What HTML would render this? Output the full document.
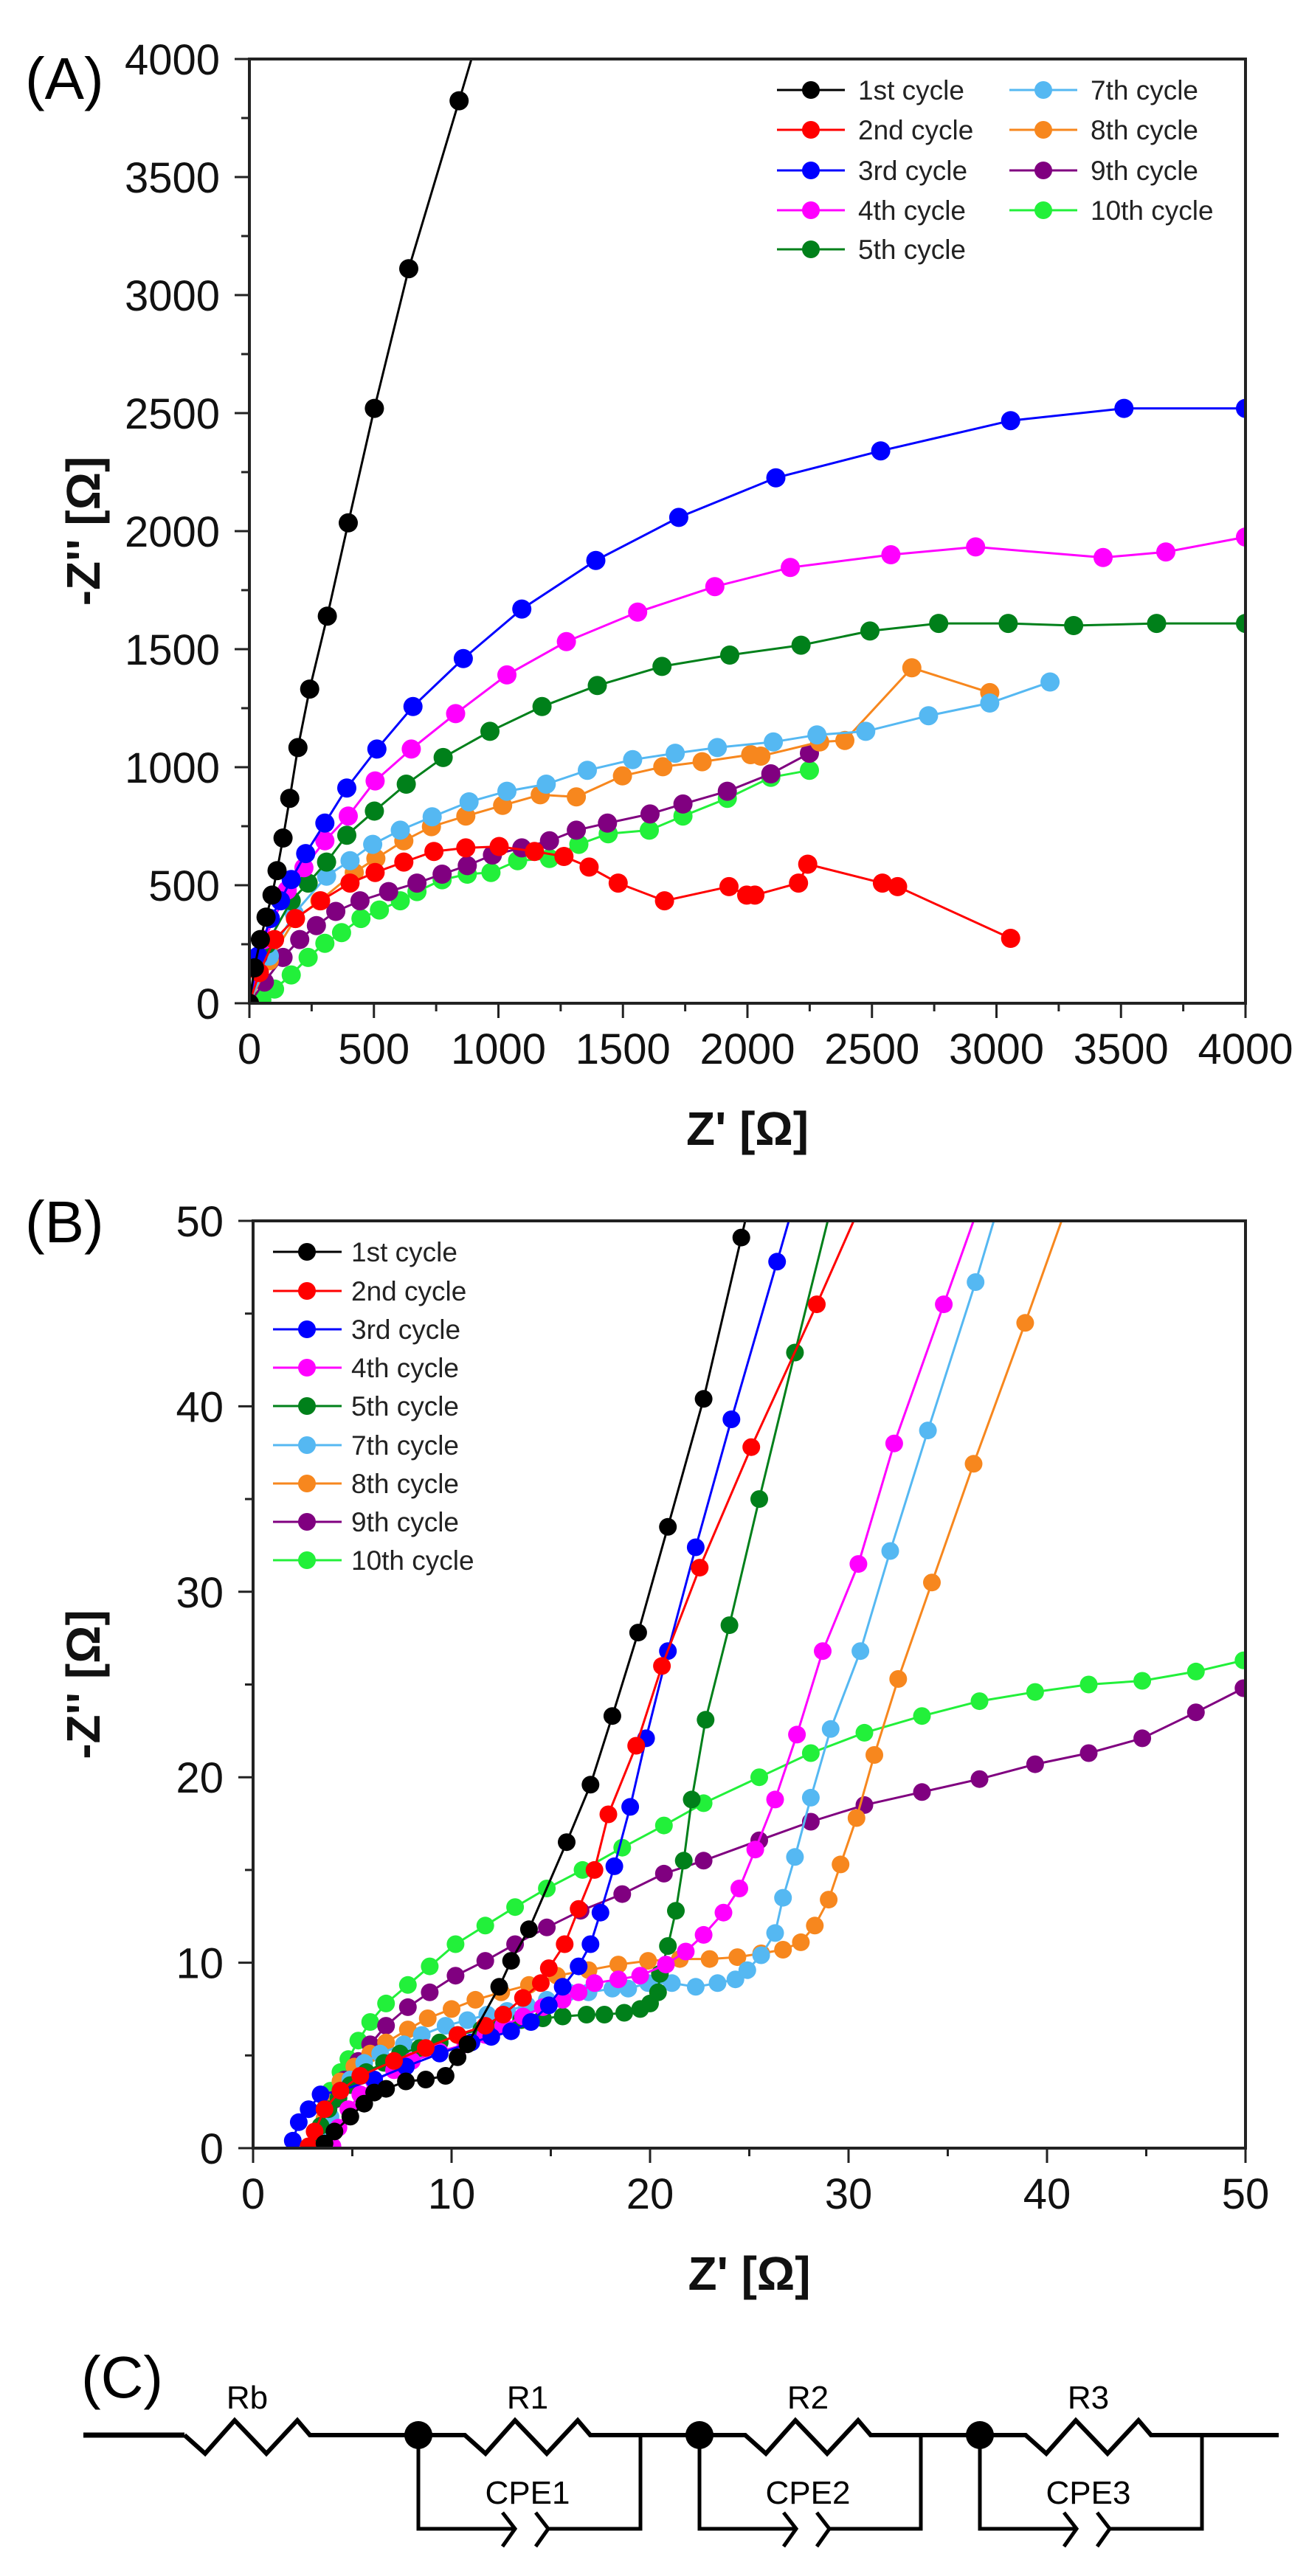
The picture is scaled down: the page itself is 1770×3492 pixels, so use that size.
<!DOCTYPE html>
<html><head><meta charset="utf-8">
<style>
html,body{margin:0;padding:0;background:#fff;}
svg{display:block;font-family:"Liberation Sans",Arial,sans-serif;}
</style></head>
<body>
<svg id="fig" width="1770" height="3492" viewBox="0 0 1770 3492" xmlns="http://www.w3.org/2000/svg">
<defs>
<clipPath id="clipA"><rect x="338" y="80" width="1350" height="1280"/></clipPath>
<clipPath id="clipB"><rect x="343" y="1655" width="1345" height="1257"/></clipPath>
</defs>
<text x="34" y="134" font-size="80">(A)</text>
<text x="34" y="1684" font-size="80">(B)</text>
<text x="110" y="3250" font-size="80">(C)</text>
<g id="chartA"></g>
<g id="chartB"></g>
<g id="circuit" stroke="#000" fill="none">
  <line x1="113" y1="3301" x2="250" y2="3301" stroke-width="7"/>
  <polyline points="250,3301 278,3326 318,3281 361,3326 403,3281 420,3301 567,3301" stroke-width="6"/>
  <polyline points="567,3301 630,3301 658,3326 698,3281 741,3326 783,3281 800,3301 948,3301" stroke-width="6"/>
  <polyline points="948,3301 1010,3301 1038,3326 1078,3281 1121,3326 1163,3281 1180,3301 1328,3301" stroke-width="6"/>
  <polyline points="1328,3301 1390,3301 1418,3326 1458,3281 1501,3326 1543,3281 1560,3301 1733,3301" stroke-width="6"/>
  <g stroke-width="5">
    <polyline points="567,3301 567,3428 698,3428"/><polyline points="681,3406 698,3428 681,3452"/>
    <polyline points="726,3406 743,3428 726,3452"/><polyline points="743,3428 868,3428 868,3301"/>
  </g>
  <g stroke-width="5">
    <polyline points="948,3301 948,3428 1079,3428"/><polyline points="1062,3406 1079,3428 1062,3452"/>
    <polyline points="1107,3406 1124,3428 1107,3452"/><polyline points="1124,3428 1248,3428 1248,3301"/>
  </g>
  <g stroke-width="5">
    <polyline points="1328,3301 1328,3428 1459,3428"/><polyline points="1442,3406 1459,3428 1442,3452"/>
    <polyline points="1487,3406 1504,3428 1487,3452"/><polyline points="1504,3428 1629,3428 1629,3301"/>
  </g>
  <circle cx="567" cy="3301" r="19" fill="#000" stroke="none"/>
  <circle cx="948" cy="3301" r="19" fill="#000" stroke="none"/>
  <circle cx="1328" cy="3301" r="19" fill="#000" stroke="none"/>
  <g fill="#000" stroke="none" font-size="44" text-anchor="middle">
    <text x="335" y="3265">Rb</text>
    <text x="715" y="3265">R1</text>
    <text x="1095" y="3265">R2</text>
    <text x="1475" y="3265">R3</text>
    <text x="715" y="3394">CPE1</text>
    <text x="1095" y="3394">CPE2</text>
    <text x="1475" y="3394">CPE3</text>
  </g>
</g>
</svg>
<script>
// ---------- Panel A data (Z' , -Z'') ----------
const aNames = ["1st cycle","2nd cycle","3rd cycle","4th cycle","5th cycle","7th cycle","8th cycle","9th cycle","10th cycle"];
const aColors = ["#000000","#ff0000","#0000ff","#ff00ff","#00801a","#55b8f2","#f7871e","#800080","#22f03a"];
const a1x = [0,20,44,67,91,111,135,162,195,242,313,397,502,640,842,1060];
const a1y = [0,150,270,365,458,562,700,868,1083,1331,1640,2035,2520,3112,3823,4600];
const a2x = [0,40,101,185,286,404,505,620,741,869,1003,1145,1263,1364,1481,1667,1926,1997,2030,2205,2242,2542,2603,3057];
const a2y = [0,130,270,359,434,509,554,598,643,658,664,643,622,577,509,434,494,458,458,509,589,509,494,275];
const a3x = [0,35,84,125,168,226,303,391,512,657,859,1094,1391,1724,2114,2535,3057,3512,4000];
const a3y = [0,200,359,434,524,634,763,912,1077,1257,1460,1670,1876,2058,2226,2340,2468,2520,2520];
const a4x = [0,60,152,219,303,397,505,650,828,1034,1273,1559,1869,2172,2576,2916,3428,3680,4000];
const a4y = [0,270,479,574,688,793,942,1077,1227,1391,1532,1657,1765,1846,1900,1933,1888,1912,1975];
const a5x = [0,70,168,236,310,391,502,630,778,966,1175,1397,1657,1929,2215,2492,2768,3047,3310,3643,4000];
const a5y = [0,250,434,509,598,712,814,928,1041,1152,1257,1346,1427,1475,1517,1577,1609,1609,1600,1609,1609];
const a7x = [0,80,180,310,404,495,606,734,882,1034,1192,1357,1539,1710,1879,2104,2279,2475,2727,2973,3215];
const a7y = [0,200,380,538,604,673,733,790,853,898,928,987,1032,1059,1083,1107,1137,1152,1218,1272,1361];
const a8x = [0,80,185,283,421,508,620,731,869,1017,1168,1313,1498,1660,1818,2013,2054,2290,2391,2660,2973];
const a8y = [0,180,359,434,554,613,688,748,793,838,883,874,963,1002,1023,1053,1047,1107,1113,1421,1316];
const a9x = [0,60,135,202,269,347,444,559,673,774,875,976,1094,1205,1313,1438,1609,1741,1919,2094,2249];
const a9y = [0,90,194,270,329,389,434,473,509,547,583,628,658,688,733,763,802,844,898,972,1059];
const a10x = [0,50,101,168,236,303,370,448,522,606,673,774,875,970,1077,1205,1323,1441,1606,1741,1919,2094,2249];
const a10y = [0,15,60,120,194,254,299,359,395,434,473,523,547,554,604,613,673,718,733,793,868,957,987];
const aX = [a1x,a2x,a3x,a4x,a5x,a7x,a8x,a9x,a10x];
const aY = [a1y,a2y,a3y,a4y,a5y,a7y,a8y,a9y,a10y];
const aXTicks = [0,500,1000,1500,2000,2500,3000,3500,4000];
const aYTicks = [0,500,1000,1500,2000,2500,3000,3500,4000];

// ---------- Panel B data ----------
const b1x = [3.6,4.1,4.9,5.6,6.1,6.7,7.7,8.7,9.7,10.3,10.8,12.4,13.0,13.9,15.8,17.0,18.1,19.4,20.9,22.7,24.6,26.5];
const b1y = [0.25,0.9,1.7,2.4,3.0,3.2,3.6,3.7,3.9,4.9,5.6,8.7,10.1,11.8,16.5,19.6,23.3,27.8,33.5,40.4,49.1,57.8];
const b2x = [2.8,3.1,3.6,4.4,5.4,7.1,8.7,10.3,11.7,12.6,13.6,14.5,14.9,15.7,16.4,17.2,17.9,19.3,20.6,22.5,25.1,28.4,31.5];
const b2y = [0.1,0.9,2.1,3.1,3.9,4.7,5.4,6.1,6.6,7.2,8.1,8.9,9.7,11.0,12.9,15.0,18.0,21.7,26.0,31.3,37.8,45.5,53.0];
const b3x = [2.0,2.3,2.8,3.4,4.4,6.1,7.7,9.4,11.0,12.0,13.0,14.0,14.9,15.6,16.4,17.0,17.5,18.2,19.0,19.8,20.9,22.3,24.1,26.4,28.6];
const b3y = [0.4,1.4,2.1,2.9,3.1,3.7,4.4,5.1,5.7,6.0,6.3,6.8,7.7,8.7,9.8,11.0,12.7,15.2,18.4,22.1,26.8,32.4,39.3,47.8,56.0];
const b4x = [4.0,4.3,4.8,5.4,6.1,7.1,8.0,9.4,10.7,11.7,12.6,13.6,14.6,15.6,16.4,17.2,18.4,19.5,20.8,21.8,22.7,23.7,24.5,25.3,26.3,27.4,28.7,30.5,32.3,34.8,36.8];
const b4y = [0.1,1.1,2.1,2.9,3.6,4.2,4.7,5.2,5.6,6.1,6.6,7.1,7.6,8.0,8.4,8.9,9.1,9.3,9.9,10.6,11.5,12.7,14.0,16.1,18.8,22.3,26.8,31.5,38.0,45.5,51.5];
const b5x = [3.3,3.4,3.8,4.3,4.9,5.7,6.6,7.4,8.4,9.4,10.3,11.5,12.5,13.5,14.6,15.6,16.8,17.7,18.7,19.5,20.0,20.4,20.5,20.9,21.3,21.7,22.1,22.8,24.0,25.5,27.3,29.3];
const b5y = [0.25,1.2,2.1,2.7,3.4,4.1,4.6,5.1,5.4,5.7,6.1,6.4,6.6,6.9,7.0,7.1,7.2,7.2,7.3,7.5,7.8,8.4,9.4,10.9,12.8,15.5,18.8,23.1,28.2,35.0,42.9,51.5];
const b7x = [3.6,3.7,3.9,4.3,4.9,5.6,6.4,7.6,8.5,9.7,10.8,11.8,12.8,13.8,14.8,15.9,16.9,18.1,18.9,19.9,21.1,22.3,23.4,24.3,24.9,25.6,26.3,26.7,27.3,28.1,29.1,30.6,32.1,34.0,36.4,37.6];
const b7y = [0.1,0.75,1.7,2.7,3.7,4.6,5.1,5.6,6.1,6.6,6.9,7.2,7.4,7.7,8.0,8.4,8.4,8.6,8.6,8.9,8.9,8.7,8.9,9.1,9.6,10.4,11.6,13.5,15.7,18.9,22.6,26.8,32.2,38.7,46.7,51.0];
const b8x = [3.4,3.6,3.9,4.4,5.1,5.9,6.7,7.8,8.8,10.0,11.2,12.5,13.9,15.3,16.9,18.4,19.9,21.5,23.0,24.4,25.6,26.7,27.6,28.3,29.0,29.6,30.4,31.3,32.5,34.2,36.3,38.9,41.5];
const b8y = [0.25,1.6,2.6,3.6,4.4,5.1,5.7,6.4,7.0,7.5,8.0,8.4,8.8,9.3,9.6,9.9,10.1,10.2,10.2,10.3,10.5,10.7,11.1,12.0,13.4,15.3,17.8,21.2,25.3,30.5,36.9,44.5,52.3];
const b9x = [3.6,3.8,4.1,4.6,5.3,5.9,6.7,7.8,8.9,10.2,11.7,13.2,14.8,16.5,18.6,20.7,22.7,25.5,28.1,30.8,33.7,36.6,39.4,42.1,44.8,47.5,49.9];
const b9y = [0.25,1.4,2.6,3.7,4.7,5.6,6.6,7.6,8.4,9.3,10.1,11.0,11.9,12.8,13.7,14.8,15.5,16.6,17.6,18.5,19.2,19.9,20.7,21.3,22.1,23.5,24.8];
const b10x = [3.3,3.4,3.6,3.9,4.4,4.8,5.3,5.9,6.7,7.8,8.9,10.2,11.7,13.2,14.8,16.6,18.6,20.7,22.7,25.5,28.1,30.8,33.7,36.6,39.4,42.1,44.8,47.5,49.9];
const b10y = [0.1,1.1,2.1,3.1,4.1,4.8,5.8,6.8,7.8,8.8,9.8,11.0,12.0,13.0,14.0,15.0,16.2,17.4,18.6,20.0,21.3,22.4,23.3,24.1,24.6,25.0,25.2,25.7,26.3];
const bX = [b1x,b2x,b3x,b4x,b5x,b7x,b8x,b9x,b10x];
const bY = [b1y,b2y,b3y,b4y,b5y,b7y,b8y,b9y,b10y];
const bXTicks = [0,10,20,30,40,50];
const bYTicks = [0,10,20,30,40,50];

const NS = "http://www.w3.org/2000/svg";
function mk(tag, attrs, parent){
  const e = document.createElementNS(NS, tag);
  for (const k in attrs) e.setAttribute(k, attrs[k]);
  parent.appendChild(e);
  return e;
}

function drawChart(g, cfg){
  const {L,R,T,B,xmax,ymax,xTicks,yTicks,xMinor,yMinor,X,Y,clip,rad,prefix} = cfg;
  const sx = v => L + v / xmax * (R - L);
  const sy = v => B - v / ymax * (B - T);
  const sg = mk("g", {"clip-path": "url(#" + clip + ")"}, g);
  
  
  for (let s = X.length - 1; s >= 0; s--){
    const pts = X[s].map((x,i) => sx(x).toFixed(1) + "," + sy(Y[s][i]).toFixed(1)).join(" ");
    const pl = mk("polyline", {points: pts, fill: "none", stroke: aColors[s], "stroke-width": 3}, sg);
    
    
    X[s].forEach((x,i) => {
      const c = mk("circle", {cx: sx(x).toFixed(1), cy: sy(Y[s][i]).toFixed(1), r: rad, fill: aColors[s]}, sg);
      
      
    });
  }
  const fr = mk("rect", {x: L, y: T, width: R - L, height: B - T, fill: "none", stroke: "#222", "stroke-width": 4}, g);
  
  
  for (let v = 0; v <= xmax + 1e-9; v += xMinor){
    const major = xTicks.some(t => Math.abs(t - v) < 1e-6);
    const tk = mk("line", {x1: sx(v), x2: sx(v), y1: B, y2: B + (major ? 20 : 11), stroke: "#222", "stroke-width": 3}, g);
    
    
  }
  xTicks.forEach(t => {
    const tx = mk("text", {x: sx(t), y: B + 82, "font-size": 58, "text-anchor": "middle", fill: "#111"}, g);
    tx.textContent = t;
    
    
  });
  for (let v = 0; v <= ymax + 1e-9; v += yMinor){
    const major = yTicks.some(t => Math.abs(t - v) < 1e-6);
    const tk = mk("line", {x1: L, x2: L - (major ? 20 : 11), y1: sy(v), y2: sy(v), stroke: "#222", "stroke-width": 3}, g);
    
    
  }
  yTicks.forEach(t => {
    const tx = mk("text", {x: L - 40, y: sy(t) + 21, "font-size": 58, "text-anchor": "end", fill: "#111"}, g);
    tx.textContent = t;
    
    
  });
  const xt = mk("text", {x: (L + R) / 2, y: B + 192, "font-size": 64, "font-weight": "bold", "text-anchor": "middle", fill: "#111"}, g);
  xt.textContent = "Z' [\u03A9]";
  
  
  const cy = (T + B) / 2;
  const yt = mk("text", {x: 135, y: cy, "font-size": 64, "font-weight": "bold", "text-anchor": "middle", fill: "#111", transform: "rotate(-90 135 " + cy + ")"}, g);
  yt.textContent = "-Z'' [\u03A9]";
  
  
  return {sx, sy};
}

const gA = document.getElementById("chartA");
drawChart(gA, {L:338,R:1688,T:80,B:1360,xmax:4000,ymax:4000,xTicks:aXTicks,yTicks:aYTicks,xMinor:250,yMinor:250,X:aX,Y:aY,clip:"clipA",rad:13,prefix:"chart-a"});
const gB = document.getElementById("chartB");
drawChart(gB, {L:343,R:1688,T:1655,B:2912,xmax:50,ymax:50,xTicks:bXTicks,yTicks:bYTicks,xMinor:5,yMinor:5,X:bX,Y:bY,clip:"clipB",rad:12,prefix:"chart-b"});

const legA = mk("g", {}, gA);


const legARows = [122,176,231,285,338];
aNames.forEach((n,i) => {
  const col = i < 5 ? 0 : 1;
  const row = i < 5 ? i : i - 5;
  const x0 = col ? 1368 : 1053, y0 = legARows[row];
  const e = mk("g", {}, legA);
  
  
  mk("line", {x1: x0, x2: x0 + 92, y1: y0, y2: y0, stroke: aColors[i], "stroke-width": 3}, e);
  mk("circle", {cx: x0 + 46, cy: y0, r: 12, fill: aColors[i]}, e);
  const t = mk("text", {x: x0 + 110, y: y0 + 13, "font-size": 37, fill: "#222"}, e);
  t.textContent = n;
});
const legB = mk("g", {}, gB);


const legBRows = [1697,1750,1802,1854,1906,1959,2011,2063,2115];
aNames.forEach((n,i) => {
  const y0 = legBRows[i];
  const e = mk("g", {}, legB);
  
  
  mk("line", {x1: 370, x2: 463, y1: y0, y2: y0, stroke: aColors[i], "stroke-width": 3}, e);
  mk("circle", {cx: 416, cy: y0, r: 12, fill: aColors[i]}, e);
  const t = mk("text", {x: 476, y: y0 + 13, "font-size": 37, fill: "#222"}, e);
  t.textContent = n;
});
</script>
</body></html>
